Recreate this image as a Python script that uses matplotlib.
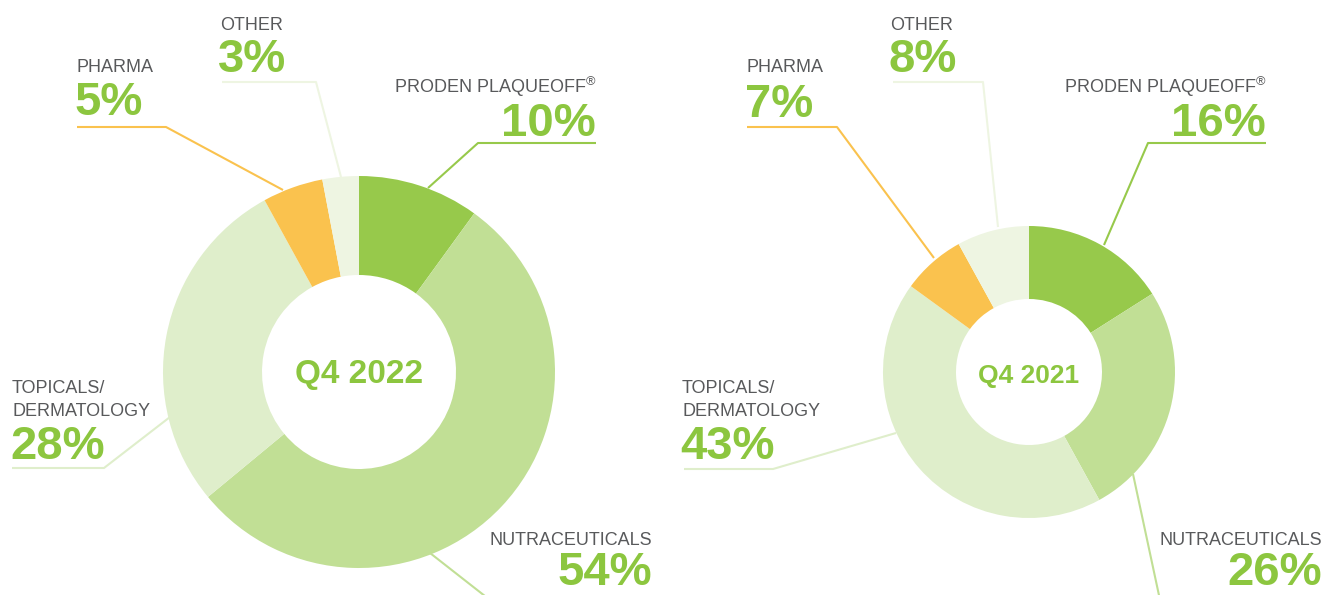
import matplotlib
matplotlib.use("Agg")
import matplotlib.pyplot as plt

plt.rcParams['font.family'] = ['Liberation Sans', 'DejaVu Sans']
plt.rcParams['mathtext.fontset'] = 'custom'
plt.rcParams['mathtext.rm'] = 'Liberation Sans'

# data
segments = ['PRODEN PLAQUEOFF', 'NUTRACEUTICALS', 'TOPICALS/\nDERMATOLOGY', 'PHARMA', 'OTHER']
q4_2022 = [10, 54, 28, 5, 3]
q4_2021 = [16, 26, 43, 7, 8]
titles = ['Q4 2022', 'Q4 2021']

colors = ['#97c94b', '#c1df95', '#dfeecb', '#fac24e', '#eef5e2']
green_txt = '#8cc63f'
gray_txt = '#58595b'

W, H = 1325, 595
def Y(py):
    return H - py

fig = plt.figure(figsize=(W / 100, H / 100), dpi=100)
ax = fig.add_axes([0, 0, 1, 1])

# layout per chart: centre, radius, hole, title size, label positions
charts = [
    dict(vals=q4_2022, title=titles[0], c=(359, 372), r=196, hole=97, tsize=24,
         labels=[
             # (x, label baseline, pct baseline, ha, leader line pts)
             (596, 93, 136, 'right', [(596, 143), (478, 143), (428, 188)]),
             (652, 545, 585, 'right', [(430, 553), (490, 600)]),
             (12, 416, 459, 'left', [(12, 468), (104, 468), (170, 417)]),
             (76, 72, 115, 'left', [(77, 127), (166, 127), (283, 190)]),
             (220, 30, 72, 'left', [(222, 82), (316, 82), (341, 177)]),
         ]),
    dict(vals=q4_2021, title=titles[1], c=(1029, 372), r=146, hole=73, tsize=19,
         labels=[
             (1266, 93, 136, 'right', [(1266, 143), (1148, 143), (1104, 245)]),
             (1322, 545, 585, 'right', [(1133, 474), (1160, 600)]),
             (682, 416, 459, 'left', [(684, 469), (773, 469), (896, 433)]),
             (747, 72, 117, 'left', [(747, 127), (837, 127), (934, 258)]),
             (890, 30, 72, 'left', [(893, 82), (983, 82), (998, 227)]),
         ]),
]

for ch in charts:
    cx, cy = ch['c']
    ax.pie(ch['vals'], colors=colors, startangle=90, counterclock=False,
           radius=ch['r'], center=(cx, Y(cy)),
           wedgeprops=dict(width=ch['r'] - ch['hole'], edgecolor='none'))
    ax.text(cx, Y(383), ch['title'], ha='center', va='baseline',
            fontsize=ch['tsize'], fontweight='bold', color=green_txt)
    for i, (x, lb, pb, ha, pts) in enumerate(ch['labels']):
        name = segments[i]
        if i == 0:
            name = name + '$^{®}$'
        if '\n' in name:
            a, b = name.split('\n')
            ax.text(x, Y(lb - 23), a, ha=ha, va='baseline', fontsize=13, color=gray_txt)
            ax.text(x, Y(lb), b, ha=ha, va='baseline', fontsize=13, color=gray_txt)
        else:
            ax.text(x, Y(lb), name, ha=ha, va='baseline', fontsize=13, color=gray_txt)
        ax.text(x - 2 if ha == 'left' else x, Y(pb), f'{ch["vals"][i]}%', ha=ha,
                va='baseline', fontsize=34, fontweight='bold', color=green_txt)
        xs = [p[0] for p in pts]
        ys = [Y(p[1]) for p in pts]
        ax.plot(xs, ys, color=colors[i], lw=1.5, solid_capstyle='butt', zorder=0)

ax.set_xlim(0, W)
ax.set_ylim(0, H)
ax.set_aspect('equal')
ax.axis('off')

fig.savefig('out.png', dpi=100, facecolor='white')
